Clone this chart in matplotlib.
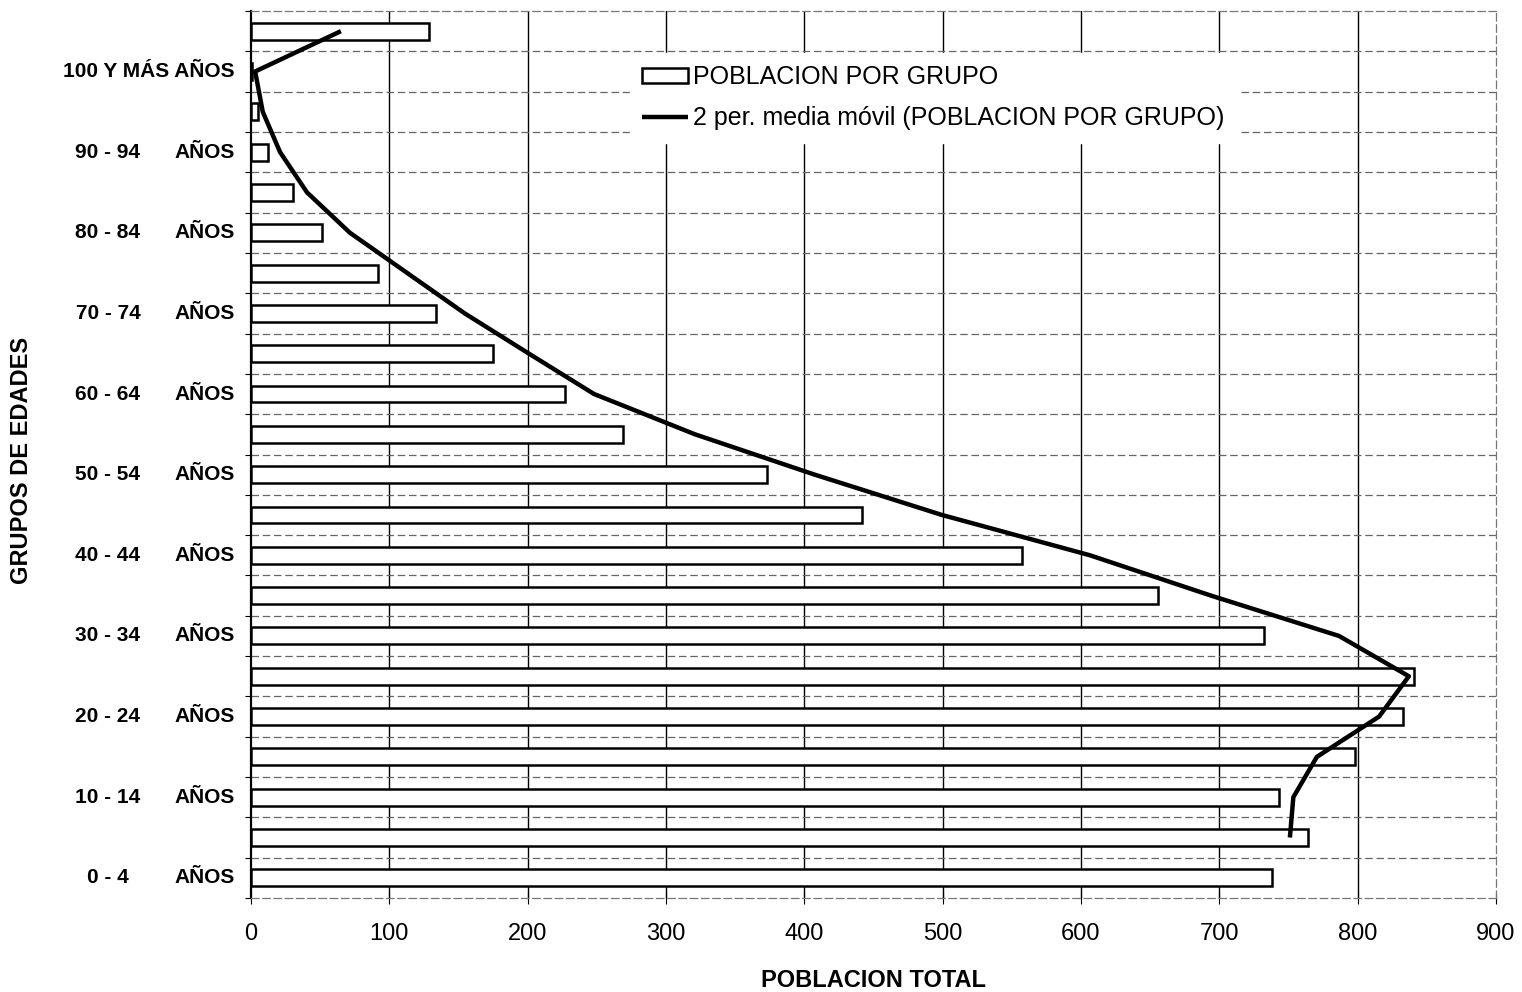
import matplotlib
matplotlib.use('Agg')
import matplotlib.pyplot as plt
import matplotlib.transforms as mtransforms
import numpy as np
import pandas as pd

plt.rcParams['font.family'] = ['Liberation Sans', 'DejaVu Sans']

# grupos de edades (de abajo hacia arriba)
grupos = ['0 - 4', '5 - 9', '10 - 14', '15 - 19', '20 - 24', '25 - 29', '30 - 34',
          '35 - 39', '40 - 44', '45 - 49', '50 - 54', '55 - 59', '60 - 64', '65 - 69',
          '70 - 74', '75 - 79', '80 - 84', '85 - 89', '90 - 94', '95 - 99',
          '100 Y MÁS', 'NO ESPECIFICADO']
poblacion = [738, 764, 743, 798, 833, 841, 732, 656, 557, 442, 373, 269, 227, 175,
             134, 92, 51, 30, 12, 5, 1, 129]
x_ticks = [0, 100, 200, 300, 400, 500, 600, 700, 800, 900]

# media movil de 2 periodos (como la linea de tendencia de excel)
media_movil = pd.Series(poblacion).rolling(2).mean()

fig = plt.figure(figsize=(15.22, 9.92), dpi=100)
ax = fig.add_axes([251 / 1522, 1 - 898 / 992, 1245 / 1522, 887 / 992])

pos = np.arange(len(grupos))
barras = ax.barh(pos, poblacion, height=0.42, color='white', edgecolor='black',
                 linewidth=1.8, zorder=3, label='POBLACION POR GRUPO')
linea, = ax.plot(media_movil, pos, color='black', linewidth=3.2, zorder=4,
                 solid_capstyle='butt',
                 label='2 per. media móvil (POBLACION POR GRUPO)')

ax.set_xlim(0, 900)
ax.set_ylim(-0.5, len(grupos) - 0.5)

# rejilla
for v in x_ticks[1:-1]:
    ax.axvline(v, color='black', linewidth=1.0, zorder=1)
for b in np.arange(0.5, len(grupos) - 1, 1.0):
    ax.axhline(b, color='#666666', linewidth=0.9, linestyle=(0, (6, 3)), zorder=1)

for s in ['top', 'right', 'bottom']:
    ax.spines[s].set_color('#777777')
    ax.spines[s].set_linestyle((0, (6, 3)))
    ax.spines[s].set_linewidth(0.9)
ax.spines['left'].set_linewidth(1.6)

ax.set_xticks(x_ticks)
ax.set_xticklabels([str(v) for v in x_ticks], fontsize=17)
ax.tick_params(axis='x', direction='inout', length=8, pad=14, color='black')
ax.set_yticks(np.arange(-0.5, len(grupos), 1.0))
ax.set_yticklabels([])
ax.tick_params(axis='y', direction='out', length=4)

# etiquetas de grupos (uno si, uno no)
trans = mtransforms.blended_transform_factory(ax.transAxes, ax.transData)
for i in range(0, len(grupos) - 1, 2):
    if grupos[i].startswith('100'):
        ax.text(-0.0129, i, grupos[i] + ' AÑOS', transform=trans, ha='right',
                va='center', fontsize=15, fontweight='bold')
    else:
        ax.text(-0.1149, i, grupos[i], transform=trans, ha='center',
                va='center', fontsize=15, fontweight='bold')
        ax.text(-0.0129, i, 'AÑOS', transform=trans, ha='right',
                va='center', fontsize=15, fontweight='bold')

ax.set_xlabel('POBLACION TOTAL', fontsize=17, fontweight='bold', labelpad=17)
fig.text(22 / 1522, 1 - 460 / 992, 'GRUPOS DE EDADES', rotation=90, ha='center',
         va='center', fontsize=17, fontweight='bold')

leg = ax.legend(handles=[barras, linea], loc='upper left',
                bbox_to_anchor=(617 / 1522, 1 - 40 / 992),
                bbox_transform=fig.transFigure, fontsize=18, frameon=True,
                fancybox=False, handlelength=1.85, handleheight=0.55,
                handletextpad=0.2, labelspacing=0.7, borderpad=0.5)
leg.get_frame().set_edgecolor('white')
leg.get_frame().set_facecolor('white')
leg.get_frame().set_alpha(1)
leg.set_zorder(5)

fig.savefig('out.png', dpi=100, facecolor='white')
